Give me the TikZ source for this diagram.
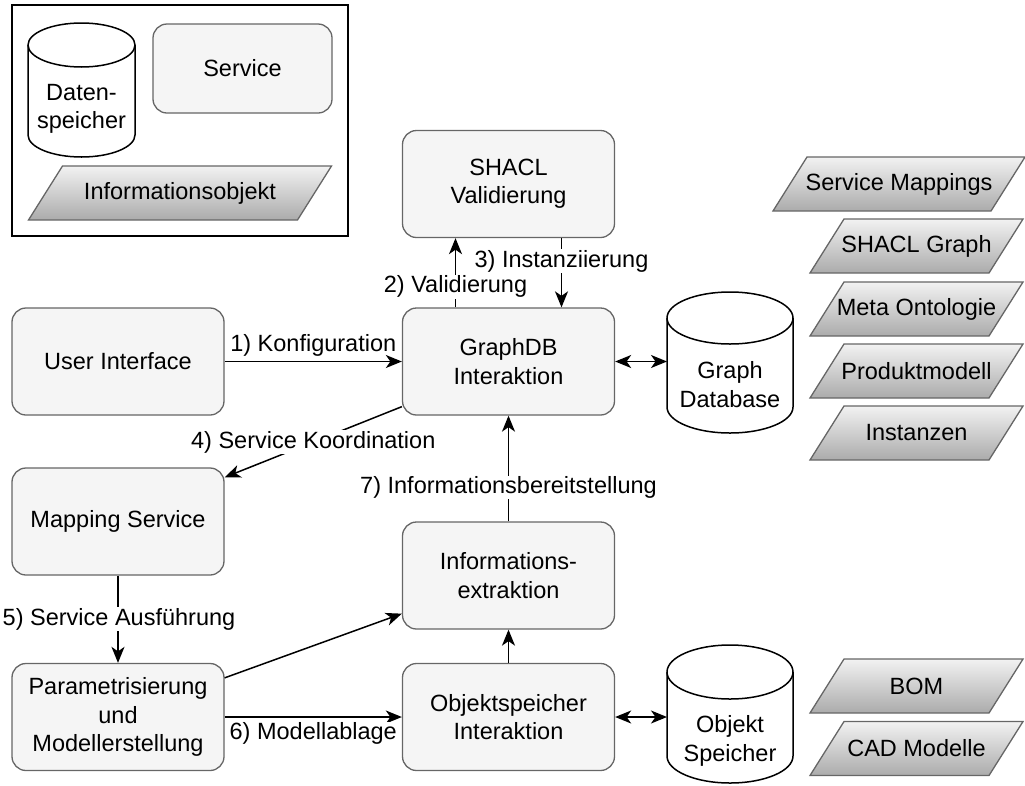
\documentclass[tikz,border=0pt]{standalone}
\usepackage{fontspec}
\setmainfont{Liberation Sans}
\usetikzlibrary{arrows.meta,calc}
\definecolor{boxfill}{HTML}{F5F5F5}
\definecolor{boxline}{HTML}{666666}
\definecolor{objtop}{HTML}{F2F2F2}
\definecolor{objbot}{HTML}{ABABAB}

% data store drawn as a cylinder; #1 name, #2 cx, #3 top, #4 bottom, #5 rx, #6 ry
\newcommand{\storecyl}[6]{%
  \draw[store] (#2-#5,#3+#6) -- (#2-#5,#4-#6)
    arc[start angle=180,end angle=360,x radius=#5pt,y radius=#6pt]
    -- (#2+#5,#3+#6)
    arc[start angle=0,end angle=180,x radius=#5pt,y radius=#6pt] -- cycle;
  \draw[store,fill=none] (#2-#5,#3+#6)
    arc[start angle=180,end angle=360,x radius=#5pt,y radius=#6pt];
  \node[inner sep=0pt,outer sep=0pt,minimum width={2*#5},minimum height={#4-#3}] (#1) at (#2,{(#3+#4)/2}) {};
}
% information object drawn as a shaded parallelogram; #1 name, #2 cx, #3 cy, #4 edge length, #5 text
\newcommand{\infoobj}[5]{%
  \shadedraw[objshape] (#2-#4/2-17,#3+27) -- (#2+#4/2-17,#3+27)
    -- (#2+#4/2+17,#3-27) -- (#2-#4/2+17,#3-27) -- cycle;
  \node[inner sep=0pt] (#1) at (#2,#3) {#5};
}

\begin{document}
\begin{tikzpicture}[x=1pt,y=-1pt,
  every node/.style={font=\fontsize{23.5}{28.2}\selectfont},
  svc/.style={draw=boxline,fill=boxfill,line width=1.3pt,rounded corners=14pt,
    minimum width=212pt,minimum height=107pt,align=center,inner sep=0pt},
  objshape/.style={draw=boxline,line width=1.3pt,top color=objtop,bottom color=objbot},
  store/.style={draw=black,fill=white,line width=1.5pt},
  flow/.style={line width=1.5pt,-{Stealth[length=16pt,width=13pt,inset=4.5pt]}},
  both/.style={line width=1.5pt,{Stealth[length=16pt,width=13pt,inset=4.5pt]}-{Stealth[length=16pt,width=13pt,inset=4.5pt]}},
  lbl/.style={fill=white,inner sep=1pt},
  storetext/.style={align=center,inner sep=0pt}
]
\useasboundingbox (0,0) rectangle (1025,785);

% legend
\node[draw,line width=2pt,minimum width=336pt,minimum height=231pt,inner sep=0pt] (legend) at (180,120.5) {};
\storecyl{legstore}{81.5}{23}{157}{53.5}{22}
\node[storetext] at ([yshift=-19pt]legstore.center) {Daten-\\speicher};
\node[svc,minimum width=179pt,minimum height=89pt] (legsvc) at (242.5,68.5) {Service};
\infoobj{legobj}{180}{193}{269}{Informationsobjekt}

% services
\node[svc] (shacl)   at (508.5,184)   {SHACL\\Validierung};
\node[svc] (graphdb) at (508.5,361.5) {GraphDB\\Interaktion};
\node[svc] (ui)      at (118,361.5)   {User Interface};
\node[svc] (map)     at (118,521.5)   {Mapping Service};
\node[svc] (info)    at (508.5,575.5) {Informations-\\extraktion};
\node[svc] (param)   at (118,717)     {Parametrisierung\\und\\Modellerstellung};
\node[svc] (objs)    at (508.5,717)   {Objektspeicher\\Interaktion};

% data stores
\storecyl{gdbstore}{730}{292}{433}{63}{26}
\node[storetext] at ([yshift=-22pt]gdbstore.center) {Graph\\Database};
\storecyl{objstore}{730}{645}{783}{63}{27}
\node[storetext] at ([yshift=-27pt]objstore.center) {Objekt\\Speicher};

% information objects
\infoobj{smap}{899}{184}{218}{Service Mappings}
\infoobj{sgraph}{916.5}{246}{179}{SHACL Graph}
\infoobj{meta}{916.5}{309}{179}{Meta Ontologie}
\infoobj{prod}{916.5}{371}{179}{Produktmodell}
\infoobj{inst}{916.5}{433}{179}{Instanzen}
\infoobj{bom}{916.5}{686}{179}{BOM}
\infoobj{cad}{916.5}{748.5}{179}{CAD Modelle}

% connectors
\draw[flow] (ui) -- node[above=3pt,inner sep=1pt] {1) Konfiguration} (graphdb);
\draw[flow] ([xshift=-53pt]graphdb.north) -- node[lbl,pos=0.3] {2) Validierung} ([xshift=-53pt]shacl.south);
\draw[flow] ([xshift=53pt]shacl.south) -- node[lbl,pos=0.33] {3) Instanziierung} ([xshift=53pt]graphdb.north);
\draw[both] (graphdb.east) -- (graphdb.east -| gdbstore.west);
\draw[flow] ([yshift=9pt]graphdb.south west) -- node[lbl] {4) Service Koordination} ([yshift=-10pt]map.north east);
\draw[flow] (map) -- node[lbl,xshift=1pt] {5) Service Ausführung} (param);
\draw[flow] ([yshift=-15pt]param.north east) -- ([yshift=16pt]info.south west);
\draw[flow] (param) -- node[lbl,below=4pt] {6) Modellablage} (objs);
\draw[flow] (objs) -- (info);
\draw[flow] (info) -- node[lbl,pos=0.32] {7) Informationsbereitstellung} (graphdb);
\draw[both] (objs.east) -- (objs.east -| objstore.west);
\end{tikzpicture}
\end{document}
